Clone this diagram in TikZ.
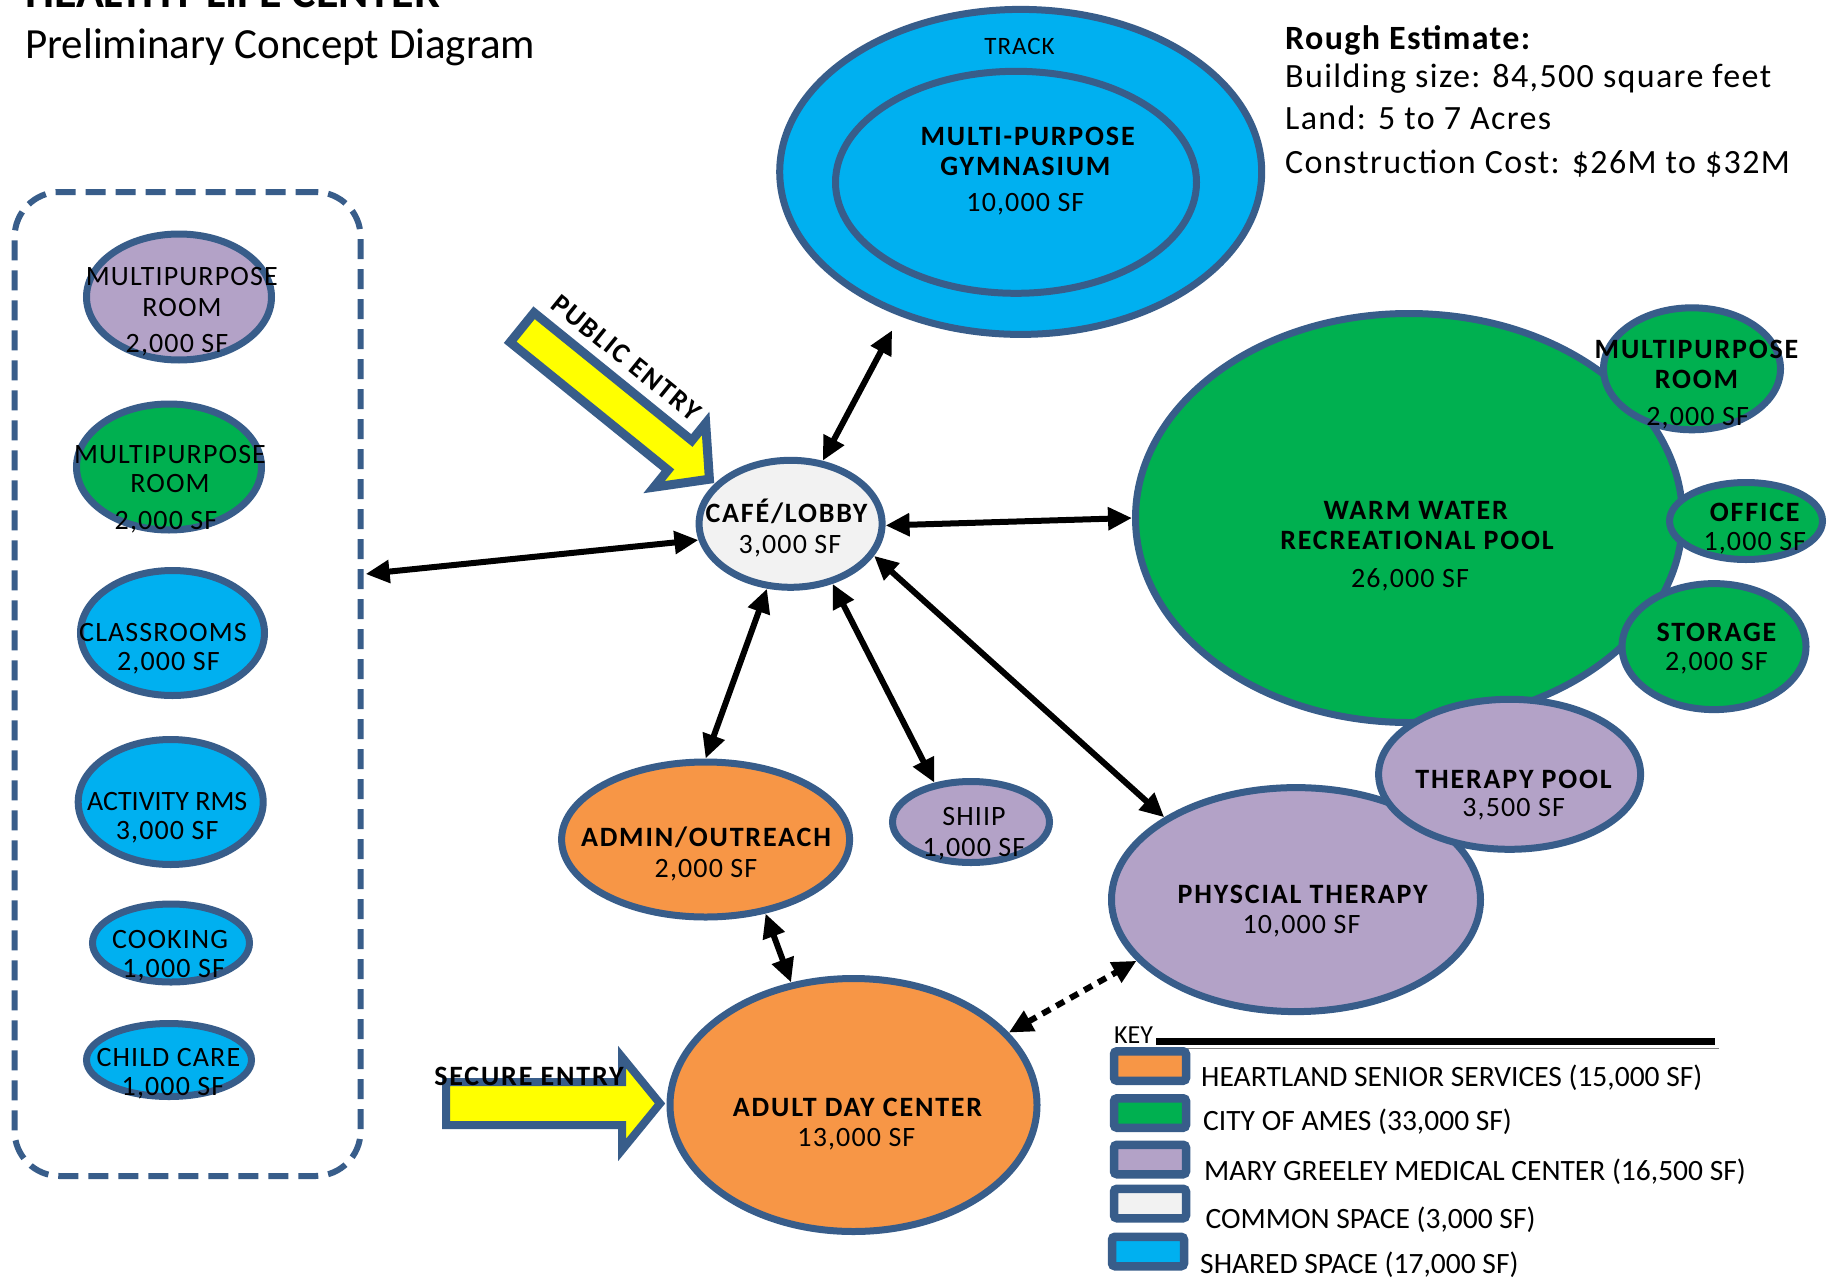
\documentclass[tikz,border=0pt]{standalone}
\usepackage{fontspec}
\setmainfont{Carlito}
\newfontfamily\nodereg[LetterSpace=4]{Carlito}
\newfontfamily\nodebold[LetterSpace=6.5]{Carlito}
\newfontfamily\estfont[LetterSpace=4]{Carlito}
\usetikzlibrary{shapes.geometric,arrows.meta,calc}
\definecolor{bord}{HTML}{385D8A}
\definecolor{hsorange}{HTML}{F79646}
\definecolor{amesgreen}{HTML}{00B050}
\definecolor{mgpurple}{HTML}{B3A2C7}
\definecolor{shblue}{HTML}{00B0F0}
\definecolor{comgray}{HTML}{F2F2F2}
\definecolor{entryyellow}{HTML}{FFFF00}
\newcommand\fsz[1]{\fontsize{#1}{#1}\selectfont}
\tikzset{
  room/.style={ellipse, draw=bord, line width=7pt, inner sep=0pt},
  lbl/.style={inner sep=0pt, anchor=base, font={\nodereg\fsz{28}}},
  blbl/.style={inner sep=0pt, anchor=base, font={\nodebold\fsz{28}\bfseries}},
  dbl/.style={{Triangle[length=24pt,width=22pt]}-{Triangle[length=24pt,width=22pt]}, line width=6pt},
  entry/.style={draw=bord, fill=entryyellow, line width=9pt, miter limit=10},
  keybox/.style={rectangle, draw=bord, line width=8.5pt, rounded corners=3pt, minimum width=72pt, minimum height=29.5pt, inner sep=0pt},
  keytxt/.style={anchor=base west, inner sep=0pt, font={\fsz{29.5}}},
  esttxt/.style={anchor=base west, inner sep=0pt, font={\estfont\fsz{34}}}
}
\begin{document}
\begin{tikzpicture}[x=1pt,y=-1pt]
\useasboundingbox (0,0) rectangle (1827,1279);
\clip (0,0) rectangle (1827,1279);
\fill[white] (0,0) rectangle (1827,1279);

% titles
\node[anchor=base west, inner sep=0pt, font={\fsz{46}\bfseries}] (title) at (25,7.5) {HEALTHY LIFE CENTER};
\node[anchor=base west, inner sep=0pt, font={\fsz{43}}] (subtitle) at (25,58.3) {Preliminary Concept Diagram};

% rough estimate
\node[esttxt, font={\estfont\fsz{34}\bfseries}] (est0) at (1285,50) {Rough Estimate:};
\node[esttxt] (est1) at (1285,88) {Building size: 84,500 square feet};
\node[esttxt] (est2) at (1285,130) {Land: 5 to 7 Acres};
\node[esttxt] (est3) at (1285,173) {Construction Cost: \$26M to \$32M};

% left dashed panel
\node[draw=bord, line width=6pt, dash pattern=on 20pt off 10pt, rounded corners=45pt, minimum width=346pt, minimum height=984pt, inner sep=0pt] (panel) at (187.6,684) {};

\node[room, fill=mgpurple, minimum width=185pt, minimum height=126pt] (mpA) at (179,297) {};
\node[room, fill=amesgreen, minimum width=185pt, minimum height=126pt] (mpB) at (169,467) {};
\node[room, fill=shblue, minimum width=184pt, minimum height=125pt] (classr) at (172.5,633) {};
\node[room, fill=shblue, minimum width=185pt, minimum height=125pt] (activ) at (170.7,802) {};
\node[room, fill=shblue, minimum width=157pt, minimum height=78pt] (cook) at (171,943) {};
\node[room, fill=shblue, minimum width=165pt, minimum height=73pt] (child) at (169,1060) {};

\node[lbl] (mpA1) at (181.8,285) {MULTIPURPOSE};
\node[lbl] (mpA2) at (182,316.6) {ROOM};
\node[lbl] (mpA3) at (177,352.7) {2,000 SF};
\node[lbl] (mpB1) at (170,463.4) {MULTIPURPOSE};
\node[lbl] (mpB2) at (170,492.6) {ROOM};
\node[lbl] (mpB3) at (166,529.8) {2,000 SF};
\node[lbl] (cl1) at (163,641.7) {CLASSROOMS};
\node[lbl] (cl2) at (168.4,670.8) {2,000 SF};
\node[lbl, font={\fsz{28}}] (ac1) at (167.2,810.7) {ACTIVITY RMS};
\node[lbl] (ac2) at (167.2,839.8) {3,000 SF};
\node[lbl] (co1) at (170,948) {COOKING};
\node[lbl] (co2) at (173.6,977) {1,000 SF};
\node[lbl] (ch1) at (168.4,1066) {CHILD CARE};
\node[lbl] (ch2) at (173,1095) {1,000 SF};

% gym / track
\node[room, fill=shblue, minimum width=482pt, minimum height=325pt] (trackO) at (1020.7,171.9) {};
\node[room, fill=shblue, minimum width=361pt, minimum height=222pt] (gym) at (1016,182.3) {};
\node[inner sep=0pt, anchor=base, font={\nodereg\fsz{25}}] (trk) at (1019.5,54.6) {TRACK};
\node[blbl] (gym1) at (1027.7,145.3) {MULTI-PURPOSE};
\node[blbl] (gym2) at (1025.4,175.6) {GYMNASIUM};
\node[lbl] (gym3) at (1025.4,211.7) {10,000 SF};

% pool cluster
\node[room, fill=amesgreen, minimum width=547pt, minimum height=409pt] (pool) at (1409,518) {};
\node[room, fill=amesgreen, minimum width=177pt, minimum height=122pt] (mpR) at (1692,368.8) {};
\node[room, fill=amesgreen, minimum width=153pt, minimum height=77pt] (office) at (1746,521) {};
\node[room, fill=amesgreen, minimum width=184pt, minimum height=126pt] (storage) at (1714,646.6) {};
\node[blbl] (po1) at (1415.7,519.4) {WARM WATER};
\node[blbl] (po2) at (1417,549.7) {RECREATIONAL POOL};
\node[lbl] (po3) at (1410,587) {26,000 SF};
\node[blbl] (mpR1) at (1696.5,358.6) {MULTIPURPOSE};
\node[blbl] (mpR2) at (1696.5,388.9) {ROOM};
\node[lbl] (mpR3) at (1697.7,425) {2,000 SF};
\node[blbl] (of1) at (1754.8,521.7) {OFFICE};
\node[lbl] (of2) at (1754.8,550.8) {1,000 SF};
\node[blbl] (st1) at (1716.4,641.7) {STORAGE};
\node[lbl] (st2) at (1716.4,670.8) {2,000 SF};

% physical therapy cluster
\node[room, fill=mgpurple, minimum width=369pt, minimum height=224pt] (pt) at (1296,899.6) {};
\node[room, fill=mgpurple, minimum width=262pt, minimum height=150pt] (tpool) at (1509.6,774.3) {};
\node[blbl] (tp1) at (1513.6,788.5) {THERAPY POOL};
\node[lbl] (tp2) at (1513.6,816.5) {3,500 SF};
\node[blbl] (pt1) at (1302.7,903.9) {PHYSCIAL THERAPY};
\node[lbl] (pt2) at (1301.5,933) {10,000 SF};

% shiip
\node[room, fill=mgpurple, minimum width=157pt, minimum height=81pt] (shiip) at (971,822) {};
\node[lbl] (sh1) at (974,825.8) {SHIIP};
\node[lbl] (sh2) at (974,856) {1,000 SF};

% admin & adult day
\node[room, fill=hsorange, minimum width=288pt, minimum height=155pt] (admin) at (705.6,839.5) {};
\node[blbl] (ad1) at (706,846.8) {ADMIN/OUTREACH};
\node[lbl] (ad2) at (706,877) {2,000 SF};
\node[room, fill=hsorange, minimum width=367pt, minimum height=253pt] (adult) at (853.5,1105) {};
\node[blbl] (au1) at (857.6,1116) {ADULT DAY CENTER};
\node[lbl] (au2) at (856.4,1146) {13,000 SF};

% public entry arrow
\begin{scope}[shift={(519,325)}, rotate=-39]
\draw[entry] (4,-19) -- (207,-19) -- (207,-41) -- (245,0) -- (207,41) -- (207,19) -- (4,19) -- cycle;
\node[blbl, anchor=center, rotate=-39] (pubtxt) at (104,-42) {PUBLIC ENTRY};
\end{scope}

% cafe
\node[room, fill=comgray, minimum width=183pt, minimum height=127pt] (cafe) at (790.6,523.8) {};
\node[blbl] (ca1) at (786.5,522.9) {CAFÉ/LOBBY};
\node[lbl] (ca2) at (790,553) {3,000 SF};

% secure entry arrow
\draw[entry, line width=8pt] (446,1082) -- (622,1082) -- (622,1057) -- (660,1103.5) -- (622,1150) -- (622,1125) -- (446,1125) -- cycle;
\node[blbl] (sectxt) at (529,1085) {SECURE ENTRY};

% connectors
\draw[dbl] ($(panel.east)+(2,-110)$) -- (cafe.190);
\draw[dbl, shorten >=16pt] (cafe.63) -- (trackO.230);
\draw[dbl] (cafe.-1) -- (pool.180);
\draw[dbl] (cafe.250) -- (admin.90);
\draw[dbl] (cafe.305) -- (shiip.133);
\draw[dbl] (cafe.339) -- (pt.148);
\draw[dbl] (admin.309) -- (adult.117);
\draw[dbl, dash pattern=on 9pt off 7pt] (adult.25) -- (pt.201);

% key
\node[anchor=base west, inner sep=0pt, font={\fsz{26}}] (keyt) at (1114,1043) {KEY};
\draw[line width=6.5pt] (1156,1041.7) -- (1715,1041.7);
\draw[line width=1pt, gray] (1160,1048) -- (1719,1048);
\node[keybox, fill=hsorange] (k1) at (1150,1066) {};
\node[keybox, fill=amesgreen] (k2) at (1150,1113) {};
\node[keybox, fill=mgpurple] (k3) at (1150,1159.5) {};
\node[keybox, fill=comgray] (k4) at (1150,1203.5) {};
\node[keybox, fill=shblue] (k5) at (1148,1251.5) {};
\node[keytxt] (kt1) at (1201,1086) {HEARTLAND SENIOR SERVICES (15,000 SF)};
\node[keytxt] (kt2) at (1203,1130) {CITY OF AMES (33,000 SF)};
\node[keytxt] (kt3) at (1204,1180) {MARY GREELEY MEDICAL CENTER (16,500 SF)};
\node[keytxt] (kt4) at (1205.5,1228) {COMMON SPACE (3,000 SF)};
\node[keytxt] (kt5) at (1200,1273) {SHARED SPACE (17,000 SF)};
\end{tikzpicture}
\end{document}
